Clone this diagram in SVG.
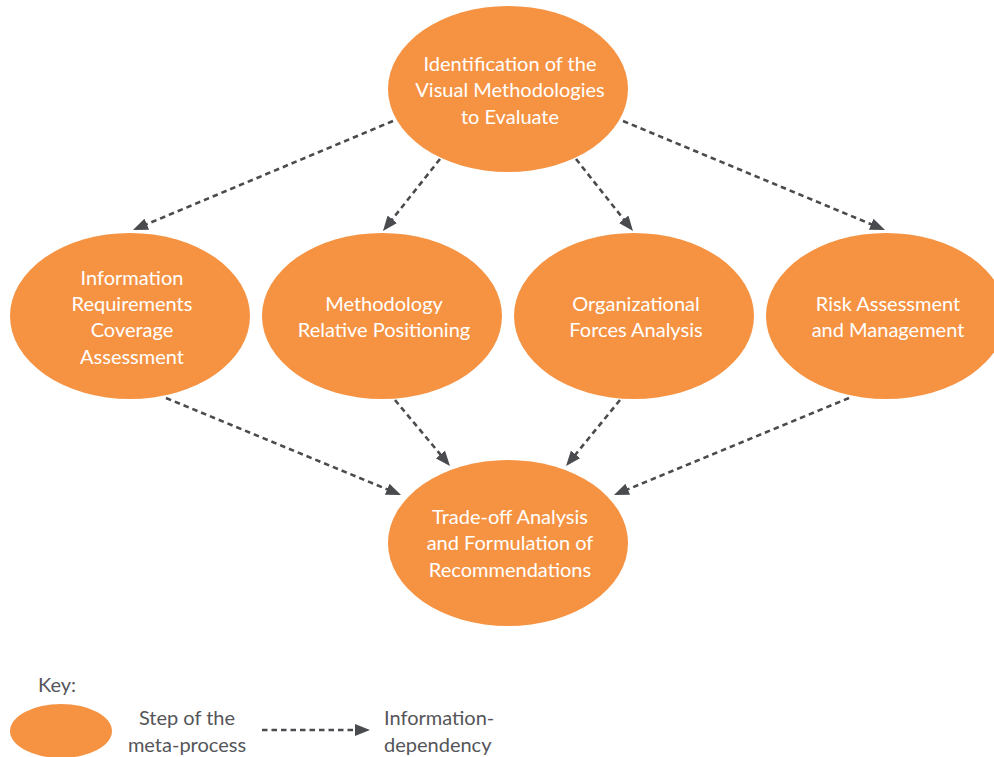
<svg xmlns="http://www.w3.org/2000/svg" width="994" height="757" viewBox="0 0 994 757">
<style>
.node{fill:#F69343;}
.lbl{font-family:Lato,"Open Sans",sans-serif;font-size:20px;fill:#ffffff;text-anchor:middle;}
.key{font-family:Lato,"Open Sans",sans-serif;font-size:20px;fill:#555559;}
.conn{stroke:#4a4b4f;stroke-width:2.6;stroke-dasharray:5.5 4;fill:none;}
</style>
<defs>
<marker id="ah" viewBox="0 0 15 12" refX="5" refY="6" markerWidth="15" markerHeight="12" markerUnits="userSpaceOnUse" orient="auto">
<path d="M0,0 L15,6 L0,12 z" fill="#4a4b4f"/>
</marker>
</defs>
<rect width="994" height="757" fill="#ffffff"/>
<g id="connectors">
<line class="conn" x1="393" y1="121" x2="142.2" y2="226.1" marker-end="url(#ah)"/>
<line class="conn" x1="440" y1="159" x2="389.2" y2="223.2" marker-end="url(#ah)"/>
<line class="conn" x1="576" y1="159" x2="626.8" y2="223.2" marker-end="url(#ah)"/>
<line class="conn" x1="623" y1="121" x2="875.8" y2="226.2" marker-end="url(#ah)"/>
<line class="conn" x1="166" y1="398" x2="391.8" y2="491.2" marker-end="url(#ah)"/>
<line class="conn" x1="395" y1="400" x2="443.6" y2="458.3" marker-end="url(#ah)"/>
<line class="conn" x1="620" y1="400" x2="572.4" y2="458.3" marker-end="url(#ah)"/>
<line class="conn" x1="849" y1="398" x2="623.2" y2="491.2" marker-end="url(#ah)"/>
</g>
<g id="n-identification">
<ellipse class="node" cx="508" cy="89" rx="120" ry="83"/>
<text class="lbl" x="510" y="71">Identification of the</text>
<text class="lbl" x="510" y="97">Visual Methodologies</text>
<text class="lbl" x="510" y="124">to Evaluate</text>
</g>
<g id="n-coverage">
<ellipse class="node" cx="130" cy="316" rx="120" ry="83"/>
<text class="lbl" x="132" y="285">Information</text>
<text class="lbl" x="132" y="311">Requirements</text>
<text class="lbl" x="132" y="337">Coverage</text>
<text class="lbl" x="132" y="364">Assessment</text>
</g>
<g id="n-positioning">
<ellipse class="node" cx="382" cy="316" rx="120" ry="83"/>
<text class="lbl" x="384" y="311">Methodology</text>
<text class="lbl" x="384" y="337">Relative Positioning</text>
</g>
<g id="n-forces">
<ellipse class="node" cx="634" cy="316" rx="120" ry="83"/>
<text class="lbl" x="636" y="311">Organizational</text>
<text class="lbl" x="636" y="337">Forces Analysis</text>
</g>
<g id="n-risk">
<ellipse class="node" cx="886" cy="316" rx="120" ry="83"/>
<text class="lbl" x="888" y="311">Risk Assessment</text>
<text class="lbl" x="888" y="337">and Management</text>
</g>
<g id="n-tradeoff">
<ellipse class="node" cx="508" cy="543" rx="120" ry="83"/>
<text class="lbl" x="510" y="524">Trade-off Analysis</text>
<text class="lbl" x="510" y="550">and Formulation of</text>
<text class="lbl" x="510" y="577">Recommendations</text>
</g>
<g id="key">
<text class="key" x="38" y="692">Key:</text>
<ellipse class="node" cx="61" cy="731" rx="51" ry="27"/>
<text class="key" x="187" y="725" text-anchor="middle">Step of the</text>
<text class="key" x="187" y="752" text-anchor="middle">meta-process</text>
<line class="conn" x1="262" y1="730" x2="360" y2="730" marker-end="url(#ah)"/>
<text class="key" x="384" y="725">Information-</text>
<text class="key" x="384" y="752">dependency</text>
</g>
</svg>
